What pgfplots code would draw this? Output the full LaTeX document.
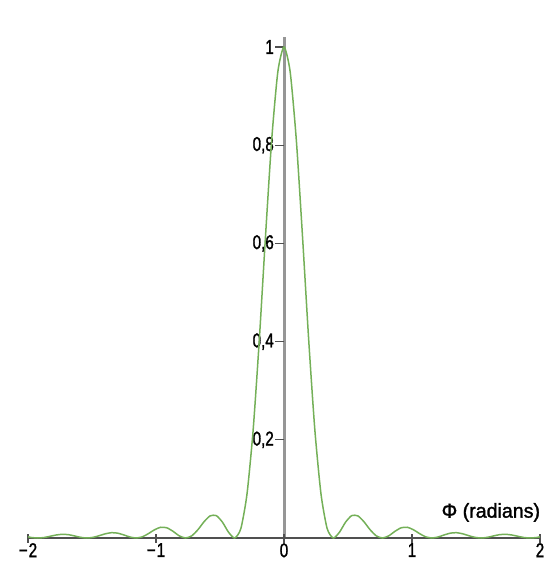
\documentclass[border=0pt]{standalone}
\usepackage{pgfplots}
\pgfplotsset{compat=1.18}
\usepackage{fontspec}
\setmainfont{Liberation Sans}[FakeStretch=0.76,FakeBold=1.3]
\newfontfamily\labelfont{Liberation Sans}[FakeStretch=0.98,FakeBold=1.5]
\newcommand{\mminus}{\symbol{"2212}\kern1bp}
\newcommand{\Phichar}{\symbol{"03A6}}
\definecolor{curve}{RGB}{116,176,88}
\definecolor{xax}{RGB}{80,80,80}
\definecolor{yax}{RGB}{150,150,150}
\begin{document}
\begin{tikzpicture}
\begin{axis}[
  scale only axis,
  width=512bp, height=500.8bp,
  xmin=-2, xmax=2, ymin=0, ymax=1.02,
  axis lines=none,
  clip=false,
  font=\fontsize{20bp}{22bp}\selectfont,
]
% axes
\draw[yax, line width=3bp] (axis cs:0,0) -- (axis cs:0,1.02);
\draw[xax, line width=1.4bp] (axis cs:-2,0) -- (axis cs:2,0);
% x ticks
\draw[xax, line width=1.2bp] ([yshift=4bp]axis cs:-2,0) -- ([yshift=-5bp]axis cs:-2,0);
\draw[xax, line width=1.2bp] ([yshift=4bp]axis cs:-1,0) -- ([yshift=-5bp]axis cs:-1,0);
\draw[xax, line width=1.2bp] ([yshift=4bp]axis cs:0,0) -- ([yshift=-5bp]axis cs:0,0);
\draw[xax, line width=1.2bp] ([yshift=4bp]axis cs:1,0) -- ([yshift=-5bp]axis cs:1,0);
\draw[xax, line width=1.2bp] ([yshift=4bp]axis cs:2,0) -- ([yshift=-5bp]axis cs:2,0);
\node[anchor=north, inner sep=0pt] at ([yshift=-5bp]axis cs:-2,0) {\mminus 2};
\node[anchor=north, inner sep=0pt] at ([yshift=-5bp]axis cs:-1,0) {\mminus 1};
\node[anchor=north, inner sep=0pt] at ([yshift=-5bp]axis cs:0,0) {0};
\node[anchor=north, inner sep=0pt] at ([yshift=-5bp]axis cs:1,0) {1};
\node[anchor=north, inner sep=0pt] at ([yshift=-5bp]axis cs:2,0) {2};
% y ticks
\draw[xax, line width=1.2bp] (axis cs:0,0.2) -- ([xshift=-9bp]axis cs:0,0.2);
\draw[xax, line width=1.2bp] (axis cs:0,0.4) -- ([xshift=-9bp]axis cs:0,0.4);
\draw[xax, line width=1.2bp] (axis cs:0,0.6) -- ([xshift=-9bp]axis cs:0,0.6);
\draw[xax, line width=1.2bp] (axis cs:0,0.8) -- ([xshift=-9bp]axis cs:0,0.8);
\draw[xax, line width=1.2bp] (axis cs:0,1) -- ([xshift=-9bp]axis cs:0,1);
\node[anchor=east, inner sep=0pt] at ([xshift=-10bp]axis cs:0,0.2) {0,2};
\node[anchor=east, inner sep=0pt] at ([xshift=-10bp]axis cs:0,0.4) {0,4};
\node[anchor=east, inner sep=0pt] at ([xshift=-10bp]axis cs:0,0.6) {0,6};
\node[anchor=east, inner sep=0pt] at ([xshift=-10bp]axis cs:0,0.8) {0,8};
\node[anchor=east, inner sep=0pt] at ([xshift=-10bp]axis cs:0,1) {1};
\node[anchor=west, inner sep=0pt, font=\labelfont\fontsize{20bp}{22bp}\selectfont] at (axis cs:1.23,0.052) {\Phichar\ (radians)};
\addplot[curve, line width=1.5bp, smooth, tension=0.4] coordinates {
(-2.0,0.0025)(-1.9731,0.0010)(-1.925,0)(-1.8769,0.0009)(-1.8288,0.0034)(-1.7806,0.0061)(-1.7325,0.0075)(-1.6844,0.0068)(-1.6363,0.0042)(-1.5881,0.0013)
(-1.54,0)(-1.4919,0.0013)(-1.4438,0.0047)(-1.3956,0.0086)(-1.3475,0.0108)(-1.2994,0.0099)(-1.2513,0.0062)(-1.2031,0.0020)
(-1.155,0)(-1.1069,0.0024)(-1.0588,0.0090)(-1.0106,0.0169)(-0.9625,0.0219)(-0.9144,0.0207)(-0.8663,0.0135)(-0.8181,0.0044)
(-0.77,0)(-0.7219,0.0042)(-0.6738,0.0165)(-0.6256,0.0328)(-0.5775,0.0450)(-0.5294,0.0457)(-0.4813,0.0324)(-0.4331,0.0117)
(-0.385,0)(-0.3369,0.0194)(-0.2888,0.0901)(-0.2406,0.2214)(-0.1925,0.4053)(-0.1444,0.6150)(-0.0963,0.8106)(-0.0481,0.9496)
(0,1)
(0.0481,0.9496)(0.0963,0.8106)(0.1444,0.6150)(0.1925,0.4053)(0.2406,0.2214)(0.2888,0.0901)(0.3369,0.0194)(0.385,0)
(0.4331,0.0117)(0.4813,0.0324)(0.5294,0.0457)(0.5775,0.0450)(0.6256,0.0328)(0.6738,0.0165)(0.7219,0.0042)(0.77,0)
(0.8181,0.0044)(0.8663,0.0135)(0.9144,0.0207)(0.9625,0.0219)(1.0106,0.0169)(1.0588,0.0090)(1.1069,0.0024)(1.155,0)
(1.2031,0.0020)(1.2513,0.0062)(1.2994,0.0099)(1.3475,0.0108)(1.3956,0.0086)(1.4438,0.0047)(1.4919,0.0013)(1.54,0)
(1.5881,0.0013)(1.6363,0.0042)(1.6844,0.0068)(1.7325,0.0075)(1.7806,0.0061)(1.8288,0.0034)(1.8769,0.0009)(1.925,0)
(1.9731,0.0010)(2.0,0.0025)
};
\coordinate (bl) at (axis cs:-2,0);
\end{axis}
\pgfresetboundingbox
\path[use as bounding box] ([xshift=-28bp,yshift=-24bp]bl) rectangle ++(544bp,562bp);
\end{tikzpicture}
\end{document}
